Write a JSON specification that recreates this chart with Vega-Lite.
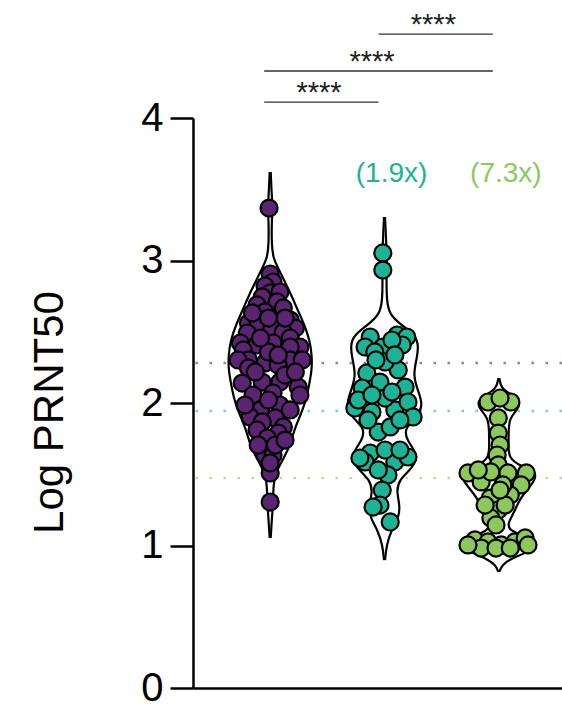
{
  "$schema": "https://vega.github.io/schema/vega-lite/v6.json",
  "autosize": "none",
  "width": 369,
  "height": 570,
  "padding": {"left": 193, "top": 118, "right": 0, "bottom": 17},
  "config": {"view": {"stroke": null}, "font": "Liberation Sans"},
  "datasets": {
    "pts": [
      {"g":"A","v":3.368,"o":-0.02},{"g":"A","v":2.905,"o":0},{"g":"A","v":2.849,"o":0.05},{"g":"A","v":2.821,"o":-0.09},{"g":"A","v":2.772,"o":0},{"g":"A","v":2.779,"o":0.17},{"g":"A","v":2.744,"o":-0.14},{"g":"A","v":2.709,"o":0.12},{"g":"A","v":2.688,"o":-0.23},{"g":"A","v":2.667,"o":0.23},{"g":"A","v":2.639,"o":-0.09},{"g":"A","v":2.582,"o":0.35},{"g":"A","v":2.561,"o":-0.38},{"g":"A","v":2.568,"o":-0.21},{"g":"A","v":2.526,"o":0.03},{"g":"A","v":2.526,"o":0.44},{"g":"A","v":2.491,"o":-0.4},{"g":"A","v":2.498,"o":0.23},{"g":"A","v":2.456,"o":0.35},{"g":"A","v":2.421,"o":-0.52},{"g":"A","v":2.407,"o":-0.23},{"g":"A","v":2.421,"o":0.05},{"g":"A","v":2.393,"o":0.52},{"g":"A","v":2.372,"o":-0.47},{"g":"A","v":2.393,"o":0.35},{"g":"A","v":2.281,"o":-0.09},{"g":"A","v":2.302,"o":0.35},{"g":"A","v":2.302,"o":-0.38},{"g":"A","v":2.267,"o":0.14},{"g":"A","v":2.302,"o":-0.56},{"g":"A","v":2.302,"o":0.56},{"g":"A","v":2.246,"o":-0.38},{"g":"A","v":2.14,"o":-0.49},{"g":"A","v":2.147,"o":-0.14},{"g":"A","v":2.147,"o":0.17},{"g":"A","v":2.112,"o":0.49},{"g":"A","v":2.056,"o":-0.3},{"g":"A","v":2.07,"o":0.05},{"g":"A","v":2.056,"o":0.52},{"g":"A","v":1.986,"o":0.17},{"g":"A","v":1.951,"o":-0.17},{"g":"A","v":1.951,"o":0.35},{"g":"A","v":1.902,"o":-0.35},{"g":"A","v":1.895,"o":0.09},{"g":"A","v":1.867,"o":-0.14},{"g":"A","v":1.832,"o":0.23},{"g":"A","v":1.811,"o":-0.23},{"g":"A","v":1.789,"o":0.14},{"g":"A","v":1.754,"o":-0.05},{"g":"A","v":1.635,"o":-0.09},{"g":"A","v":1.635,"o":0.05},{"g":"A","v":1.509,"o":0},{"g":"A","v":1.305,"o":0},{"g":"A","v":2.218,"o":-0.26},{"g":"A","v":2.196,"o":0.26},{"g":"A","v":2.021,"o":-0.03},{"g":"A","v":1.986,"o":-0.44},{"g":"A","v":2.218,"o":0.44},{"g":"A","v":2.358,"o":-0.03},{"g":"A","v":2.456,"o":-0.17},{"g":"A","v":2.596,"o":0.26},{"g":"A","v":2.632,"o":-0.31},{"g":"A","v":2.596,"o":-0.03},{"g":"A","v":2.337,"o":0.14},{"g":"A","v":1.705,"o":-0.21},{"g":"A","v":1.705,"o":0.09},{"g":"A","v":1.74,"o":0.26},{"g":"A","v":1.579,"o":0},
      {"g":"B","v":3.053,"o":-0.03},{"g":"B","v":2.933,"o":-0.03},{"g":"B","v":2.463,"o":-0.25},{"g":"B","v":2.477,"o":0.22},{"g":"B","v":2.463,"o":0.39},{"g":"B","v":2.393,"o":-0.34},{"g":"B","v":2.393,"o":-0.03},{"g":"B","v":2.407,"o":0.31},{"g":"B","v":2.442,"o":0.13},{"g":"B","v":2.358,"o":-0.17},{"g":"B","v":2.211,"o":-0.31},{"g":"B","v":2.232,"o":0.24},{"g":"B","v":2.288,"o":0.01},{"g":"B","v":2.147,"o":-0.08},{"g":"B","v":2.112,"o":0.36},{"g":"B","v":2.105,"o":-0.39},{"g":"B","v":1.965,"o":-0.52},{"g":"B","v":1.937,"o":-0.22},{"g":"B","v":1.951,"o":0.18},{"g":"B","v":2.007,"o":0.41},{"g":"B","v":1.902,"o":0.5},{"g":"B","v":2.035,"o":0.01},{"g":"B","v":2.021,"o":-0.46},{"g":"B","v":1.796,"o":-0.11},{"g":"B","v":1.832,"o":0.1},{"g":"B","v":1.649,"o":-0.25},{"g":"B","v":1.586,"o":0.18},{"g":"B","v":1.67,"o":0.01},{"g":"B","v":1.586,"o":-0.34},{"g":"B","v":1.621,"o":0.41},{"g":"B","v":1.495,"o":0.06},{"g":"B","v":1.389,"o":-0.04},{"g":"B","v":1.284,"o":-0.08},{"g":"B","v":1.165,"o":0.1},{"g":"B","v":1.27,"o":-0.2},{"g":"B","v":1.881,"o":-0.29},{"g":"B","v":1.881,"o":0.27},{"g":"B","v":2.077,"o":0.13},{"g":"B","v":2.056,"o":-0.22},{"g":"B","v":1.614,"o":-0.43},{"g":"B","v":1.53,"o":-0.11},{"g":"B","v":1.67,"o":0.27},{"g":"B","v":2.302,"o":-0.15},{"g":"B","v":2.337,"o":0.18},
      {"g":"C","v":2.007,"o":-0.19},{"g":"C","v":2.007,"o":0.21},{"g":"C","v":2.035,"o":0.02},{"g":"C","v":1.895,"o":-0.01},{"g":"C","v":1.789,"o":-0.01},{"g":"C","v":1.705,"o":0.02},{"g":"C","v":1.635,"o":-0.03},{"g":"C","v":1.565,"o":-0.01},{"g":"C","v":1.509,"o":-0.54},{"g":"C","v":1.446,"o":-0.31},{"g":"C","v":1.516,"o":-0.14},{"g":"C","v":1.46,"o":0.28},{"g":"C","v":1.509,"o":0.48},{"g":"C","v":1.509,"o":0.16},{"g":"C","v":1.425,"o":0.39},{"g":"C","v":1.333,"o":-0.15},{"g":"C","v":1.354,"o":0.2},{"g":"C","v":1.249,"o":-0.01},{"g":"C","v":1.193,"o":-0.14},{"g":"C","v":1.039,"o":-0.42},{"g":"C","v":1.025,"o":-0.19},{"g":"C","v":1.004,"o":0.04},{"g":"C","v":1.025,"o":0.28},{"g":"C","v":1.053,"o":0.46},{"g":"C","v":0.982,"o":-0.31},{"g":"C","v":0.982,"o":-0.05},{"g":"C","v":0.982,"o":0.2},{"g":"C","v":1.425,"o":0.07},{"g":"C","v":1.53,"o":-0.36},{"g":"C","v":1.284,"o":-0.24},{"g":"C","v":1.284,"o":0.11},{"g":"C","v":1.144,"o":-0.05},{"g":"C","v":1.004,"o":-0.54},{"g":"C","v":1.004,"o":0.51},{"g":"C","v":1.389,"o":0.02}
    ],
    "vio": [
      {"g":"A","v":3.621,"lo":-0.009,"hi":0.009},{"g":"A","v":3.46,"lo":-0.026,"hi":0.026},{"g":"A","v":3.368,"lo":-0.044,"hi":0.044},{"g":"A","v":3.27,"lo":-0.026,"hi":0.026},{"g":"A","v":3.109,"lo":-0.026,"hi":0.026},{"g":"A","v":3.018,"lo":-0.052,"hi":0.052},{"g":"A","v":2.947,"lo":-0.14,"hi":0.14},{"g":"A","v":2.863,"lo":-0.24,"hi":0.24},{"g":"A","v":2.758,"lo":-0.37,"hi":0.37},{"g":"A","v":2.653,"lo":-0.48,"hi":0.48},{"g":"A","v":2.547,"lo":-0.6,"hi":0.6},{"g":"A","v":2.442,"lo":-0.69,"hi":0.69},{"g":"A","v":2.337,"lo":-0.73,"hi":0.73},{"g":"A","v":2.232,"lo":-0.73,"hi":0.73},{"g":"A","v":2.126,"lo":-0.68,"hi":0.68},{"g":"A","v":2.021,"lo":-0.63,"hi":0.63},{"g":"A","v":1.916,"lo":-0.53,"hi":0.53},{"g":"A","v":1.811,"lo":-0.42,"hi":0.42},{"g":"A","v":1.705,"lo":-0.35,"hi":0.35},{"g":"A","v":1.614,"lo":-0.24,"hi":0.24},{"g":"A","v":1.53,"lo":-0.12,"hi":0.12},{"g":"A","v":1.446,"lo":-0.061,"hi":0.061},{"g":"A","v":1.354,"lo":-0.052,"hi":0.052},{"g":"A","v":1.263,"lo":-0.044,"hi":0.044},{"g":"A","v":1.165,"lo":-0.026,"hi":0.026},{"g":"A","v":1.053,"lo":-0.009,"hi":0.009},
      {"g":"B","v":3.305,"lo":-0.009,"hi":0.009},{"g":"B","v":3.074,"lo":-0.035,"hi":0.035},{"g":"B","v":2.989,"lo":-0.044,"hi":0.044},{"g":"B","v":2.898,"lo":-0.035,"hi":0.035},{"g":"B","v":2.723,"lo":-0.035,"hi":0.035},{"g":"B","v":2.618,"lo":-0.087,"hi":0.087},{"g":"B","v":2.547,"lo":-0.3,"hi":0.3},{"g":"B","v":2.477,"lo":-0.53,"hi":0.53},{"g":"B","v":2.407,"lo":-0.6,"hi":0.6},{"g":"B","v":2.302,"lo":-0.56,"hi":0.56},{"g":"B","v":2.196,"lo":-0.5,"hi":0.5},{"g":"B","v":2.091,"lo":-0.58,"hi":0.58},{"g":"B","v":1.986,"lo":-0.68,"hi":0.68},{"g":"B","v":1.895,"lo":-0.56,"hi":0.56},{"g":"B","v":1.825,"lo":-0.35,"hi":0.35},{"g":"B","v":1.74,"lo":-0.38,"hi":0.38},{"g":"B","v":1.635,"lo":-0.6,"hi":0.6},{"g":"B","v":1.544,"lo":-0.49,"hi":0.49},{"g":"B","v":1.46,"lo":-0.25,"hi":0.25},{"g":"B","v":1.375,"lo":-0.21,"hi":0.21},{"g":"B","v":1.284,"lo":-0.27,"hi":0.27},{"g":"B","v":1.193,"lo":-0.25,"hi":0.25},{"g":"B","v":1.109,"lo":-0.12,"hi":0.12},{"g":"B","v":1.004,"lo":-0.035,"hi":0.035},{"g":"B","v":0.898,"lo":-0.009,"hi":0.009},
      {"g":"C","v":2.175,"lo":-0.009,"hi":0.009},{"g":"C","v":2.105,"lo":-0.035,"hi":0.035},{"g":"C","v":2.056,"lo":-0.23,"hi":0.23},{"g":"C","v":2.007,"lo":-0.39,"hi":0.39},{"g":"C","v":1.951,"lo":-0.32,"hi":0.32},{"g":"C","v":1.895,"lo":-0.19,"hi":0.19},{"g":"C","v":1.811,"lo":-0.17,"hi":0.17},{"g":"C","v":1.705,"lo":-0.17,"hi":0.17},{"g":"C","v":1.614,"lo":-0.17,"hi":0.17},{"g":"C","v":1.558,"lo":-0.38,"hi":0.38},{"g":"C","v":1.509,"lo":-0.68,"hi":0.68},{"g":"C","v":1.446,"lo":-0.61,"hi":0.61},{"g":"C","v":1.375,"lo":-0.46,"hi":0.46},{"g":"C","v":1.305,"lo":-0.34,"hi":0.34},{"g":"C","v":1.235,"lo":-0.27,"hi":0.27},{"g":"C","v":1.165,"lo":-0.17,"hi":0.17},{"g":"C","v":1.109,"lo":-0.15,"hi":0.15},{"g":"C","v":1.053,"lo":-0.52,"hi":0.52},{"g":"C","v":1.004,"lo":-0.65,"hi":0.65},{"g":"C","v":0.954,"lo":-0.52,"hi":0.52},{"g":"C","v":0.912,"lo":-0.23,"hi":0.23},{"g":"C","v":0.863,"lo":-0.052,"hi":0.052},{"g":"C","v":0.814,"lo":-0.009,"hi":0.009}
    ],
    "med": [{"g":"A","v":2.281},{"g":"B","v":1.944},{"g":"C","v":1.474}],
    "br": [{"from":"A","to":"B","v":4.112},{"from":"A","to":"C","v":4.33},{"from":"B","to":"C","v":4.589}],
    "brtxt1": [{"g":"B","v":4.112,"t":"****"},{"g":"C","v":4.589,"t":"****"}],
    "brtxt2": [{"g":"B","v":4.33,"t":"****"}],
    "fold": [{"g":"B","v":3.553,"t":"(1.9x)"},{"g":"C","v":3.553,"t":"(7.3x)"}]
  },
  "layer": [
    {
      "data": {"name": "med"},
      "mark": {"type": "rule", "strokeDash": [2.5, 11.5], "strokeWidth": 2.5, "opacity": 0.6},
      "encoding": {
        "y": {"field": "v", "type": "quantitative", "scale": {"domain": [0, 4], "nice": false},
              "axis": {"values": [0, 1, 2, 3, 4], "format": "d", "grid": false, "domainColor": "black", "domainWidth": 2.5, "tickColor": "black", "tickWidth": 2.5, "tickSize": 23, "labelFontSize": 40, "labelColor": "black", "labelPadding": 7, "title": "Log PRNT50", "titleFontSize": 42, "titleFontWeight": "normal", "titleColor": "black", "titleAngle": -90, "titleX": -131, "titleY": 294, "titleAlign": "center", "titleBaseline": "alphabetic"}},
        "color": {"field": "g", "type": "nominal", "scale": {"domain": ["A", "B", "C"], "range": ["#5b2470", "#1fb395", "#8dc85c"]}, "legend": null}
      }
    },
    {
      "data": {"name": "vio"},
      "transform": [{"fold": ["lo", "hi"], "as": ["side", "off"]}],
      "mark": {"type": "line", "interpolate": "basis", "color": "black", "strokeWidth": 2.2},
      "encoding": {
        "x": {"field": "g", "type": "nominal", "scale": {"domain": ["A", "B", "C"], "paddingInner": 0, "paddingOuter": 0.1137, "align": 0.77},
              "axis": {"domainColor": "black", "domainWidth": 2.5, "ticks": false, "labels": false, "title": null}},
        "xOffset": {"field": "off", "type": "quantitative", "scale": {"domain": [-1, 1], "range": [0, 114.33]}},
        "y": {"field": "v", "type": "quantitative"},
        "detail": [{"field": "g"}, {"field": "side"}],
        "order": {"field": "v", "type": "quantitative"}
      }
    },
    {
      "data": {"name": "pts"},
      "mark": {"type": "circle", "size": 290, "stroke": "black", "strokeWidth": 2.2, "opacity": 1},
      "encoding": {
        "x": {"field": "g", "type": "nominal"},
        "xOffset": {"field": "o", "type": "quantitative"},
        "y": {"field": "v", "type": "quantitative"},
        "fill": {"field": "g", "type": "nominal", "scale": {"domain": ["A", "B", "C"], "range": ["#5b2470", "#1fb395", "#8dc85c"]}, "legend": null}
      }
    },
    {
      "data": {"name": "fold"},
      "mark": {"type": "text", "fontSize": 28, "dx": 7, "baseline": "alphabetic", "align": "center"},
      "encoding": {
        "x": {"field": "g", "type": "nominal"},
        "y": {"field": "v", "type": "quantitative"},
        "text": {"field": "t"},
        "color": {"field": "g", "type": "nominal"}
      }
    },
    {
      "data": {"name": "br"},
      "mark": {"type": "rule", "color": "#333333", "strokeWidth": 1.3, "xOffset": -6, "x2Offset": -6},
      "encoding": {
        "x": {"field": "from", "type": "nominal"},
        "x2": {"field": "to"},
        "y": {"field": "v", "type": "quantitative"}
      }
    },
    {
      "data": {"name": "brtxt1"},
      "mark": {"type": "text", "fontSize": 29, "dx": -65.5, "dy": 0, "baseline": "alphabetic", "align": "center", "color": "#222222"},
      "encoding": {
        "x": {"field": "g", "type": "nominal"},
        "y": {"field": "v", "type": "quantitative"},
        "text": {"field": "t"}
      }
    },
    {
      "data": {"name": "brtxt2"},
      "mark": {"type": "text", "fontSize": 29, "dx": -12.5, "dy": 0, "baseline": "alphabetic", "align": "center", "color": "#222222"},
      "encoding": {
        "x": {"field": "g", "type": "nominal"},
        "y": {"field": "v", "type": "quantitative"},
        "text": {"field": "t"}
      }
    }
  ]
}
